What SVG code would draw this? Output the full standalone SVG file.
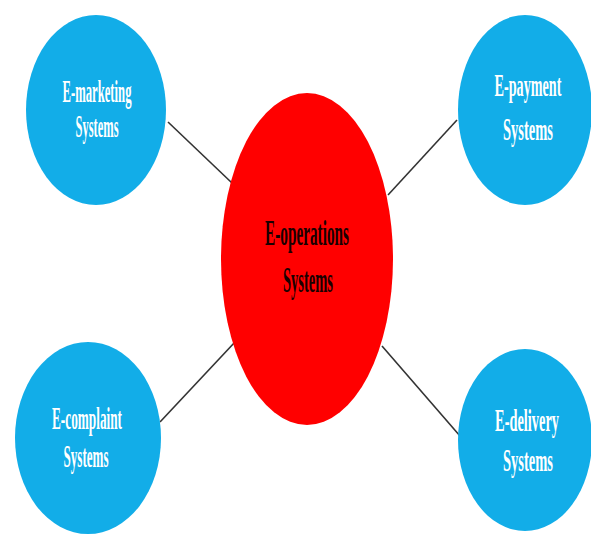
<svg xmlns="http://www.w3.org/2000/svg" width="591" height="534" viewBox="0 0 591 534">
<style>
.blue{fill:#12ADE8;}
.red{fill:#FF0000;}
.lbl{font-family:"Liberation Serif","Times New Roman",serif;font-weight:bold;font-size:24px;text-anchor:middle;fill:#ffffff;}
.clbl{font-family:"Liberation Serif","Times New Roman",serif;font-weight:bold;font-size:24px;text-anchor:middle;fill:#1a0000;}
.conn{stroke:#333333;stroke-width:1.6;fill:none;}
</style>
<rect width="591" height="534" fill="#ffffff"/>
<g id="connectors">
<line class="conn" x1="168" y1="122" x2="232" y2="183"/>
<line class="conn" x1="457" y1="120" x2="388" y2="195"/>
<line class="conn" x1="160" y1="422" x2="235" y2="342"/>
<line class="conn" x1="382" y1="346" x2="460" y2="436"/>
</g>
<g id="e-operations">
<ellipse class="red" cx="307" cy="259" rx="86" ry="166"/>
<text class="clbl" transform="translate(307,245) scale(0.636,1.45)">E-operations</text>
<text class="clbl" transform="translate(308,292) scale(0.605,1.45)">Systems</text>
</g>
<g id="e-marketing">
<ellipse class="blue" cx="96" cy="110" rx="70" ry="95"/>
<text class="lbl" transform="translate(97,102) scale(0.528,1.3)">E-marketing</text>
<text class="lbl" transform="translate(97,137) scale(0.52,1.3)">Systems</text>
</g>
<g id="e-payment">
<ellipse class="blue" cx="525" cy="110" rx="67" ry="95"/>
<text class="lbl" transform="translate(528,96) scale(0.591,1.3)">E-payment</text>
<text class="lbl" transform="translate(528,140) scale(0.605,1.3)">Systems</text>
</g>
<g id="e-complaint">
<ellipse class="blue" cx="88" cy="438" rx="73" ry="96"/>
<text class="lbl" transform="translate(87,429) scale(0.553,1.3)">E-complaint</text>
<text class="lbl" transform="translate(86,467) scale(0.544,1.3)">Systems</text>
</g>
<g id="e-delivery">
<ellipse class="blue" cx="525" cy="440" rx="67" ry="91"/>
<text class="lbl" transform="translate(527,431) scale(0.6,1.3)">E-delivery</text>
<text class="lbl" transform="translate(528,471) scale(0.605,1.3)">Systems</text>
</g>
</svg>
